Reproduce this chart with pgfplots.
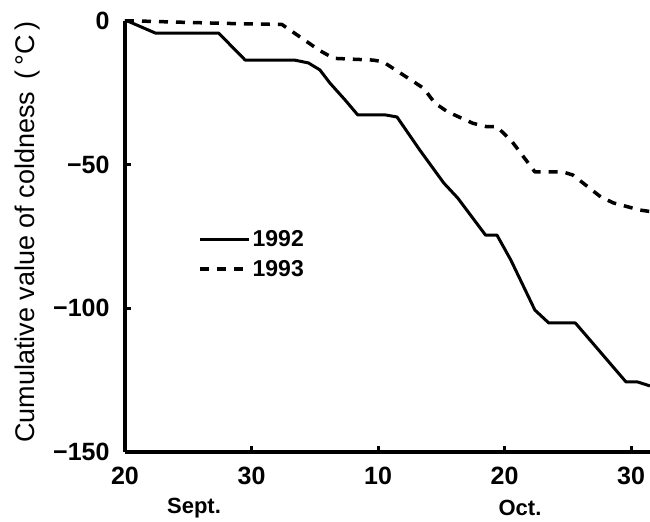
\documentclass[border=0pt]{standalone}
\usepackage{pgfplots}
\pgfplotsset{compat=1.18}
\usepackage{fontspec}
\setmainfont{Liberation Sans}

\begin{document}
\begin{tikzpicture}
\begin{axis}[
  scale only axis, width=525bp, height=431bp,
  xmin=0, xmax=41.5, ymin=-150, ymax=0,
  axis x line=bottom, axis y line=left,
  axis line style={line width=3.5bp, -},
  xtick={0,10,20,30,40}, xticklabels={20,30,10,20,30},
  ytick={-150,-100,-50,0}, yticklabels={−150,−100,−50,0},
  tick align=inside, major tick length=6bp,
  tick style={line width=3bp, black},
  ticklabel style={font=\bfseries\fontsize{25bp}{29bp}\selectfont},
  xticklabel style={yshift=-12bp},
  yticklabel style={xshift=-12bp},
  clip=false,
  legend cell align=left,
  legend style={at={(rel axis cs:0.139,0.518)}, anchor=north west, draw=none, fill=none, inner sep=0pt, font=\bfseries\fontsize{23bp}{27bp}\selectfont, row sep=8bp},
  legend image code/.code={\draw[#1] (0bp,0bp) -- (49bp,0bp);},
]
\addplot[black, line width=3bp, line join=round] coordinates {
(0,0) (0.2,0) (2.4,-4.2) (7.4,-4.2) (9.5,-13.6) (13.4,-13.6) (14.5,-14.6) (15.4,-17) (16.2,-21.6) (17.4,-27.5) (18.4,-32.7) (20.6,-32.7) (21.5,-33.4) (23.3,-44.9) (25.2,-56.4) (26.3,-61.6) (28.5,-74.5) (29.4,-74.5) (30.5,-83.2) (32.4,-100.6) (33.5,-105.1) (35.6,-105.1) (37.3,-113.8) (38.8,-121.5) (39.6,-125.6) (40.5,-125.6) (41.5,-127)
};
\addlegendentry{1992}
\addplot[black, line width=3.5bp, dash pattern=on 9bp off 8bp, line join=round] coordinates {
(0,0) (1,0) (5,-0.5) (9.5,-1) (12.4,-1.2) (15.4,-10.3) (16.5,-13) (19.6,-13.6) (20.4,-14.2) (23.6,-23.4) (24.5,-28.6) (25.5,-31.6) (27.5,-35.6) (28.6,-36.8) (29.4,-36.8) (30.6,-42) (31.8,-49) (32.4,-52.5) (34.6,-52.5) (35.4,-53.6) (37.6,-61.2) (38.6,-63.3) (40.7,-65.8) (41.5,-66.3)
};
\addlegendentry{1993}
\end{axis}
\node[font=\bfseries\fontsize{22bp}{26bp}\selectfont] at (69bp,-56bp) {Sept.};
\node[font=\bfseries\fontsize{22bp}{26bp}\selectfont] at (395bp,-56bp) {Oct.};
\node[rotate=90, font=\fontsize{27bp}{32bp}\selectfont] at (-97bp,220bp) {Cumulative value of coldness \,(\hspace{5bp}°C\hspace{5bp})};
\pgfresetboundingbox
\path[use as bounding box] (-125bp,-70bp) rectangle (525bp,452bp);
\end{tikzpicture}
\end{document}
